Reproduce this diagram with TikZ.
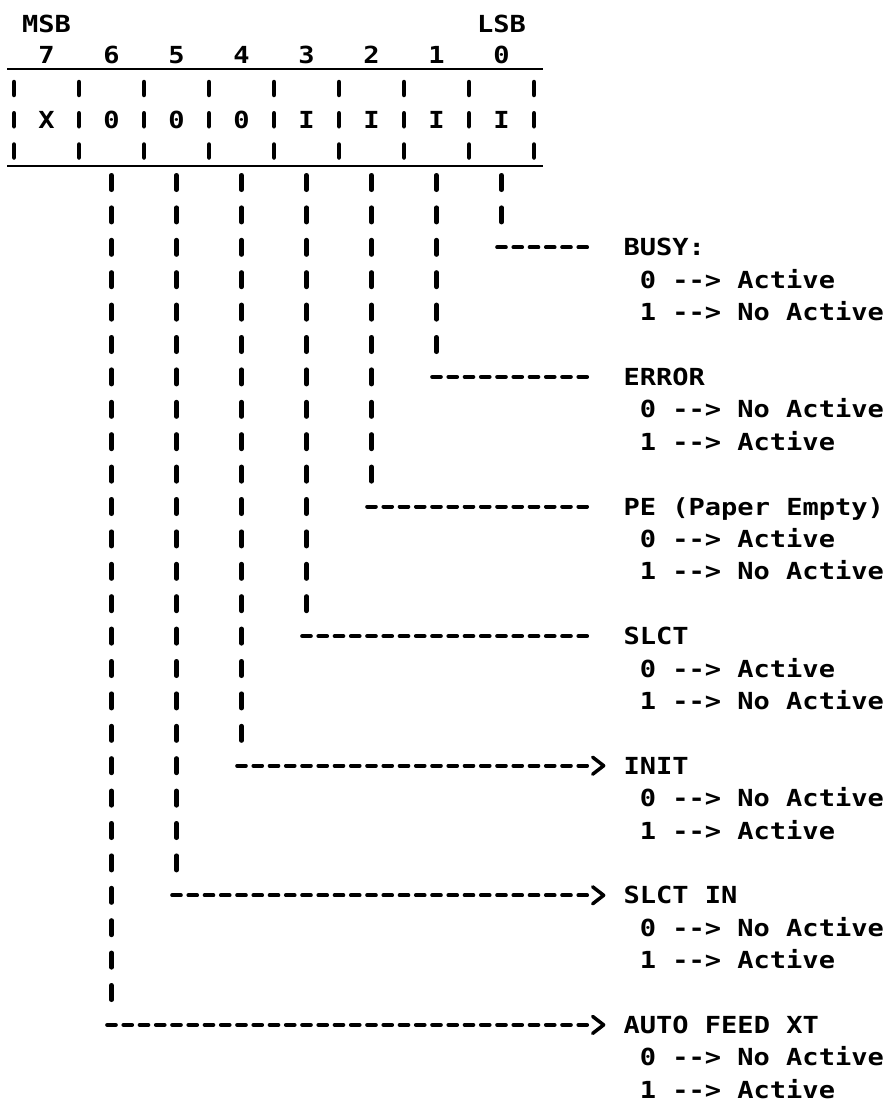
\documentclass[tikz,border=0pt]{standalone}
\usepackage{fontspec}
\setmonofont{DejaVu Sans Mono}[FakeStretch=1.15]
\usetikzlibrary{arrows.meta}

\begin{document}
\begin{tikzpicture}[
    x=1pt, y=-1pt,
    font=\ttfamily\bfseries\fontsize{23.5pt}{28pt}\selectfont,
    ch/.style      = {inner sep=0pt, anchor=base},
    txt/.style     = {inner sep=0pt, anchor=base west},
    regline/.style = {line width=2.7pt},
    wall/.style    = {line width=4.5pt, line cap=round, dash pattern=on 13pt off 18.25pt},
    bang/.style    = {line width=4.5pt, line cap=round, dash pattern=on 14.5pt off 17.9pt},
    dashln/.style  = {line width=4pt, line cap=round, dash pattern=on 8.65pt off 7.6pt,
                      shorten >=33pt},
    chev/.style    = {line width=3.5pt, shorten >=18pt,
                      -{Straight Barb[length=11pt, width=17pt, line width=3.5pt, round]}}
]

\fill[white] (0,0) rectangle (887,1103);
\useasboundingbox (0,0) rectangle (887,1103);

% Register: bit numbers and contents
\foreach \b/\v in {7/X,6/0,5/0,4/0,3/I,2/I,1/I,0/I} {
    \pgfmathsetmacro\cx{14+16.25*(30-4*\b)}
    \node[ch] (n\b) at (\cx,63)  {\b};
    \node[ch] (b\b) at (\cx,128) {\v};
}
\node[ch] (msb) at (n7 |- 0,32) {MSB};
\node[ch] (lsb) at (n0 |- 0,32) {LSB};

% Register frame
\draw[regline] (7,69)  -- (543,69);
\draw[regline] (7,166) -- (543,166);
\foreach \s in {0,4,...,32}
    \draw[wall] ({14+16.25*\s},82) -- ++(0,76);

% Bit lines down to their signal names
\foreach \b/\name/\za/\zb in {
    0/BUSY:/Active/No Active,
    1/ERROR/No Active/Active,
    2/PE (Paper Empty)/Active/No Active,
    3/SLCT/Active/No Active,
    4/INIT/No Active/Active,
    5/SLCT IN/No Active/Active,
    6/AUTO FEED XT/No Active/Active} {
    \pgfmathsetmacro\cx{14+16.25*(30-4*\b)}
    \pgfmathsetmacro\yd{182.5+32.4*(4*\b+2)}
    \draw[bang] (\cx,175.25) -- (\cx,{175.25+32.4*(4*\b+1)+14.5});
    \node[txt] (lbl\b)   at (623.4,\yd+8.5)      {\name};
    \node[txt] (lbl\b-0) at (639.6,\yd+32.4+8.5) {0 --> \za};
    \node[txt] (lbl\b-1) at (639.6,\yd+64.8+8.5) {1 --> \zb};
    \coordinate (t\b) at ({\cx-8.125+3.8},\yd);
    \draw[dashln] (t\b) -- (t\b -| lbl\b.west);
}

% Arrowheads on the control lines
\foreach \b in {4,5,6}
    \draw[chev] ([xshift=-21pt]t\b -| lbl\b.west) -- (t\b -| lbl\b.west);

\end{tikzpicture}
\end{document}
